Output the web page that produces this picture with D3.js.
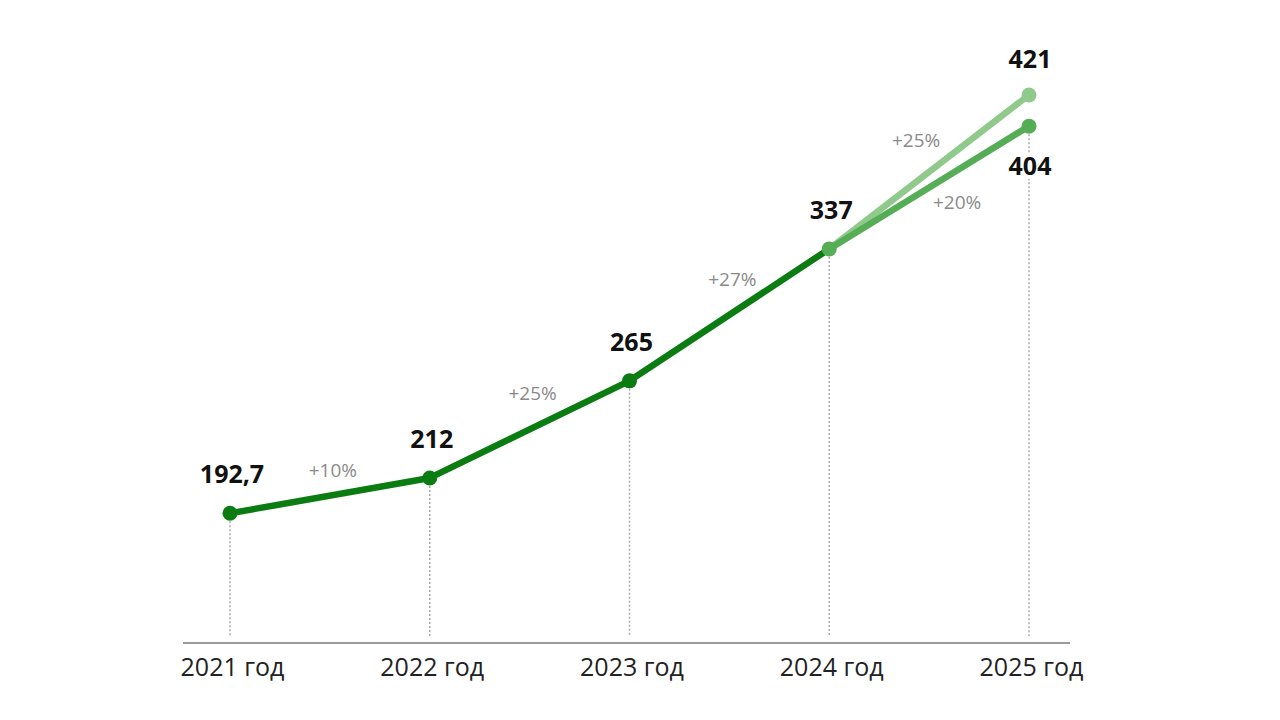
<!DOCTYPE html>
<html><head><meta charset="utf-8">
<script src="https://cdn.jsdelivr.net/npm/d3@7"></script>
<style>html,body{margin:0;padding:0;background:#fff;}svg{display:block;font-family:"Open Sans",sans-serif;}</style>
</head><body>
<svg id="chart" width="1280" height="720"></svg>
<script>
const years = ["2021 год","2022 год","2023 год","2024 год","2025 год"];
const mainValues = [192.7, 212, 265, 337];
const mainLabels = ["192,7","212","265","337"];
const mainGrowth = ["+10%","+25%","+27%"];
const forecastHigh = 421, forecastHighLabel = "421", forecastHighGrowth = "+25%";
const forecastLow = 404, forecastLowLabel = "404", forecastLowGrowth = "+20%";

const svg = d3.select("#chart");
const x = d3.scalePoint().domain(years).range([230, 1029]);
const y = d3.scaleLinear().domain([123, 421]).range([641, 95]);
const axisY = y(123);

const cDark = "#0b7c12", cMid = "#55ad55", cLight = "#8fca8c";

// vertical dotted guides
const allPts = mainValues.map((v,i)=>({yr:years[i], v}));
allPts.push({yr:years[4], v:forecastLow});
svg.append("g").selectAll("line").data(allPts).join("line")
  .attr("x1", d=>x(d.yr)).attr("x2", d=>x(d.yr))
  .attr("y1", d=>y(d.v)+8).attr("y2", axisY-5)
  .attr("stroke","#aaa").attr("stroke-width",1.5).attr("stroke-dasharray","2,2");

// axis
svg.append("line").attr("x1",183).attr("x2",1070).attr("y1",axisY+2).attr("y2",axisY+2)
  .attr("stroke","#9a9a9a").attr("stroke-width",2);
const xAxis = d3.axisBottom(x).tickSize(0).tickPadding(0);
const ag = svg.append("g").attr("transform",`translate(2,${axisY+35})`).call(xAxis);
ag.select(".domain").remove();
ag.selectAll("text").attr("font-size",25).attr("fill","#222").attr("font-family","Open Sans, sans-serif").attr("dy","0");

const line = d3.line().x(d=>x(d.yr)).y(d=>y(d.v));
const last = allPts[3];
// forecast lines
svg.append("path").datum([last,{yr:years[4],v:forecastHigh}]).attr("d",line)
  .attr("fill","none").attr("stroke",cLight).attr("stroke-width",6.5).attr("stroke-linecap","round");
svg.append("path").datum([last,{yr:years[4],v:forecastLow}]).attr("d",line)
  .attr("fill","none").attr("stroke",cMid).attr("stroke-width",6.5).attr("stroke-linecap","round");
// main line
svg.append("path").datum(allPts.slice(0,4)).attr("d",line)
  .attr("fill","none").attr("stroke",cDark).attr("stroke-width",6.5).attr("stroke-linejoin","round");

// circles
svg.append("circle").attr("cx",x(years[4])).attr("cy",y(forecastHigh)).attr("r",7.5).attr("fill",cLight);
svg.append("circle").attr("cx",x(years[4])).attr("cy",y(forecastLow)).attr("r",7.5).attr("fill",cMid);
svg.append("g").selectAll("circle").data(allPts.slice(0,3)).join("circle")
  .attr("cx",d=>x(d.yr)).attr("cy",d=>y(d.v)).attr("r",7.5).attr("fill",cDark);
svg.append("circle").attr("cx",x(years[3])).attr("cy",y(337)).attr("r",7.5).attr("fill",cMid);

// value labels
const vl = svg.append("g").attr("font-weight","bold").attr("font-size",25).attr("fill","#111").attr("text-anchor","middle");
mainValues.forEach((v,i)=>{
  vl.append("text").attr("x",x(years[i])+2).attr("y",y(v)-30).text(mainLabels[i]);
});
vl.append("text").attr("x",x(years[4])+1).attr("y",y(forecastHigh)-27).text(forecastHighLabel);
vl.append("text").attr("x",x(years[4])+1).attr("y",y(forecastLow)+49)
  .attr("stroke","#fff").attr("stroke-width",8).attr("paint-order","stroke").text(forecastLowLabel);

// growth labels
const gl = svg.append("g").attr("font-size",19).attr("fill","#8a8a8a").attr("text-anchor","middle");
mainGrowth.forEach((g,i)=>{
  const mx = (x(years[i])+x(years[i+1]))/2;
  const my = (y(mainValues[i])+y(mainValues[i+1]))/2;
  gl.append("text").attr("x",mx+3).attr("y",my-(i===0?19:29)).text(g);
});
const mx2 = (x(years[3])+x(years[4]))/2;
gl.append("text").attr("x",mx2-13).attr("y",(y(337)+y(forecastHigh))/2-25).text(forecastHighGrowth);
gl.append("text").attr("x",mx2+28).attr("y",(y(337)+y(forecastLow))/2+21).text(forecastLowGrowth);
</script>
</body></html>
